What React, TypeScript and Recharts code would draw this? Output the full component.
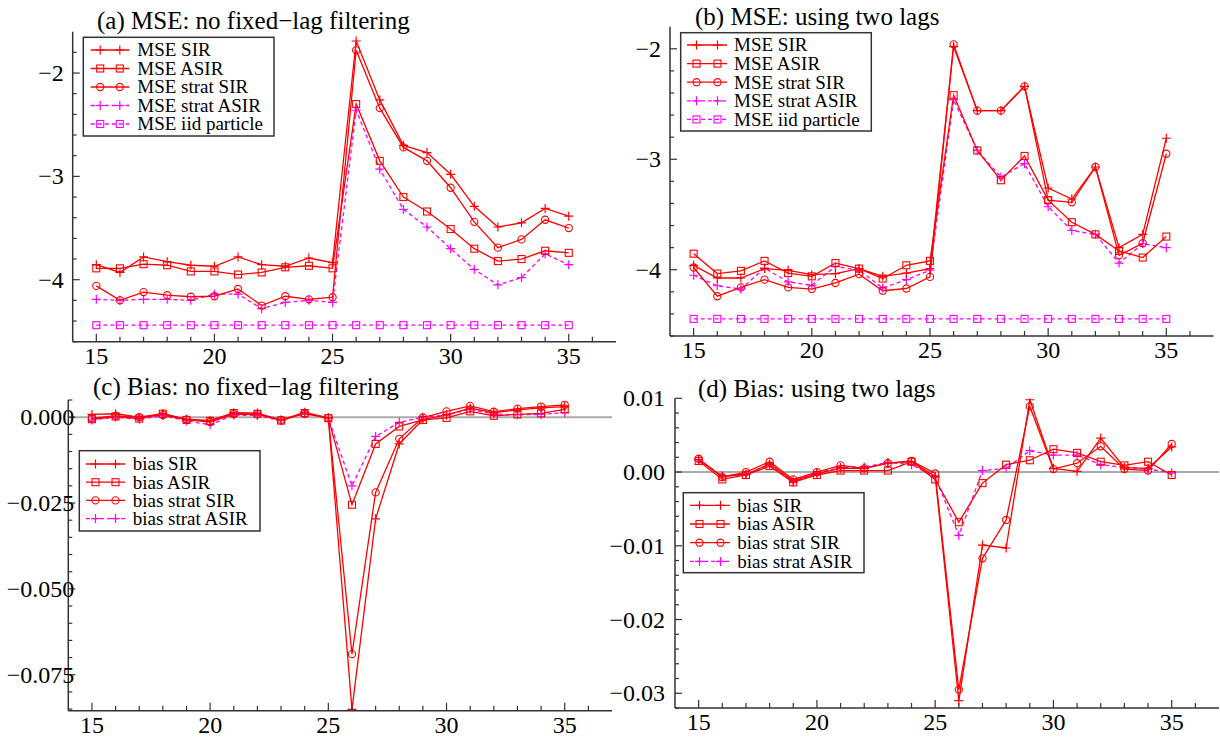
import React from 'react';
import { LineChart, Line, XAxis, YAxis, ReferenceLine } from 'recharts';

const SERIF = '"Liberation Serif", "Times New Roman", serif';
const RED = '#ff0000';
const MAGENTA = '#ff00ff';
const AXIS = '#333333';
const MINUS = '\u2212';

// time steps on the x axis
const steps = [15, 16, 17, 18, 19, 20, 21, 22, 23, 24, 25, 26, 27, 28, 29, 30, 31, 32, 33, 34, 35];

// (a) MSE, no fixed-lag filtering
const aSir = [-3.855, -3.93, -3.78, -3.826, -3.86, -3.87, -3.78, -3.855, -3.87, -3.79, -3.835, -1.69, -2.26, -2.7, -2.77, -2.98, -3.29, -3.49, -3.45, -3.31, -3.385];
const aAsir = [-3.89, -3.89, -3.85, -3.86, -3.92, -3.92, -3.95, -3.93, -3.88, -3.865, -3.89, -2.3, -2.85, -3.2, -3.34, -3.51, -3.7, -3.82, -3.8, -3.72, -3.74];
const aStratSir = [-4.06, -4.2, -4.12, -4.15, -4.165, -4.16, -4.09, -4.25, -4.16, -4.19, -4.17, -1.78, -2.34, -2.72, -2.85, -3.11, -3.44, -3.69, -3.61, -3.42, -3.5];
const aStratAsir = [-4.19, -4.2, -4.19, -4.19, -4.2, -4.14, -4.14, -4.28, -4.22, -4.2, -4.22, -2.36, -2.93, -3.32, -3.49, -3.7, -3.9, -4.05, -3.98, -3.75, -3.855];
const aIid = [-4.44, -4.44, -4.44, -4.44, -4.44, -4.44, -4.44, -4.44, -4.44, -4.44, -4.44, -4.44, -4.44, -4.44, -4.44, -4.44, -4.44, -4.44, -4.44, -4.44, -4.44];

// (b) MSE, two lags
const bSir = [-3.96, -4.075, -4.075, -3.99, -4.005, -4.045, -4.035, -3.99, -4.06, -4.03, -3.99, -1.98, -2.56, -2.56, -2.34, -3.26, -3.36, -3.07, -3.8, -3.68, -2.81];
const bAsir = [-3.855, -4.035, -4.01, -3.92, -4.03, -4.06, -3.94, -3.99, -4.08, -3.96, -3.92, -2.42, -2.92, -3.19, -2.97, -3.37, -3.57, -3.68, -3.83, -3.89, -3.7];
const bStratSir = [-3.98, -4.24, -4.16, -4.09, -4.16, -4.175, -4.12, -4.04, -4.19, -4.17, -4.065, -1.96, -2.56, -2.56, -2.34, -3.37, -3.39, -3.07, -3.87, -3.76, -2.95];
const bStratAsir = [-4.05, -4.145, -4.175, -3.985, -4.11, -4.14, -3.97, -4.005, -4.165, -4.09, -4.005, -2.46, -2.92, -3.16, -3.04, -3.43, -3.645, -3.68, -3.94, -3.765, -3.8];
const bIid = [-4.445, -4.445, -4.445, -4.445, -4.445, -4.445, -4.445, -4.445, -4.445, -4.445, -4.445, -4.445, -4.445, -4.445, -4.445, -4.445, -4.445, -4.445, -4.445, -4.445, -4.445];

// (c) bias, no fixed-lag filtering
const cSir = [0.0008, 0.001, 0, 0.001, -0.0006, -0.001, 0.0013, 0.0012, -0.0008, 0.0014, -0.0002, -0.0851, -0.0296, -0.0078, -0.0007, 0.0007, 0.0026, 0.0013, 0.0021, 0.0027, 0.0031];
const cAsir = [-0.0006, 0.0002, -0.0004, 0.001, -0.0008, -0.0011, 0.0012, 0.001, -0.001, 0.0012, -0.0003, -0.0255, -0.0078, -0.0027, -0.0008, -0.0002, 0.0017, 0.0004, 0.0008, 0.0011, 0.0023];
const cStratSir = [-0.0003, 0.0004, 0, 0.0006, -0.0007, -0.0014, 0.0009, 0.0008, -0.0008, 0.001, -0.0002, -0.069, -0.0219, -0.0063, -0.0001, 0.0017, 0.0033, 0.0016, 0.0025, 0.0031, 0.0036];
const cStratAsir = [-0.0008, 0, -0.0006, 0.0005, -0.0011, -0.0022, 0.0006, 0.0005, -0.001, 0.0011, -0.0003, -0.02, -0.0056, -0.0015, 0, 0.0006, 0.0023, 0.0009, 0.0007, 0.0008, 0.0013];

// (d) bias, two lags
const dSir = [0.0017, -0.0006, -0.0003, 0.0011, -0.0012, -0.0002, 0.0005, 0.0005, 0.0012, 0.0014, -0.0006, -0.031, -0.0099, -0.0103, 0.0098, 0.0005, 0.0001, 0.0046, 0.0006, 0.0005, 0.0034];
const dAsir = [0.0015, -0.001, -0.0004, 0.0008, -0.0014, -0.0004, 0.0002, 0.0002, 0.0002, 0.0014, -0.001, -0.0068, -0.0015, 0.001, 0.0016, 0.0031, 0.0026, 0.0014, 0.0009, 0.0014, -0.0004];
const dStratSir = [0.0018, -0.0007, 0, 0.0014, -0.001, 0, 0.0009, 0.0005, 0.0012, 0.0015, -0.0002, -0.0295, -0.0117, -0.0065, 0.0089, 0.0004, 0.0012, 0.0035, 0.0004, 0.0002, 0.0038];
const dStratAsir = [0.0016, -0.0005, -0.0003, 0.001, -0.0014, -0.0001, 0.0006, 0.0007, 0.0013, 0.001, -0.0007, -0.0086, 0.0002, 0.0005, 0.0029, 0.0023, 0.0023, 0.001, 0.0006, 0.0004, -0.0001];

// tick labels
const xTicks = [15, 16, 17, 18, 19, 20, 21, 22, 23, 24, 25, 26, 27, 28, 29, 30, 31, 32, 33, 34, 35, 36];
const xLabels = [15, 20, 25, 30, 35];
const mseMajor = [-2, -3, -4];
const mseLabels = [MINUS + '2', MINUS + '3', MINUS + '4'];
const cMajor = [0, -0.025, -0.05, -0.075];
const cLabels = ['0.000', MINUS + '0.025', MINUS + '0.050', MINUS + '0.075'];
const dMajor = [0.01, 0, -0.01, -0.02, -0.03];
const dLabels = ['0.01', '0.00', MINUS + '0.01', MINUS + '0.02', MINUS + '0.03'];

type MarkerKind = 'plus' | 'square' | 'circle';
interface Series {
  key: string;
  name: string;
  color: string;
  dashed: boolean;
  marker: MarkerKind;
}

const mseSeries: Series[] = [
  { key: 'iid', name: 'MSE iid particle', color: MAGENTA, dashed: true, marker: 'square' },
  { key: 'stratAsir', name: 'MSE strat ASIR', color: MAGENTA, dashed: true, marker: 'plus' },
  { key: 'stratSir', name: 'MSE strat SIR', color: RED, dashed: false, marker: 'circle' },
  { key: 'asir', name: 'MSE ASIR', color: RED, dashed: false, marker: 'square' },
  { key: 'sir', name: 'MSE SIR', color: RED, dashed: false, marker: 'plus' },
];
const biasSeries: Series[] = [
  { key: 'stratAsir', name: 'bias strat ASIR', color: MAGENTA, dashed: true, marker: 'plus' },
  { key: 'stratSir', name: 'bias strat SIR', color: RED, dashed: false, marker: 'circle' },
  { key: 'asir', name: 'bias ASIR', color: RED, dashed: false, marker: 'square' },
  { key: 'sir', name: 'bias SIR', color: RED, dashed: false, marker: 'plus' },
];

const range = (from: number, to: number, step: number) => {
  const out: number[] = [];
  const n = Math.round((to - from) / step);
  for (let i = 0; i <= n; i++) out.push(Math.round((from + i * step) * 1e6) / 1e6);
  return out;
};

const rows = (cols: Record<string, number[]>) =>
  steps.map((x, i) => {
    const r: Record<string, number> = { x };
    Object.keys(cols).forEach((k) => {
      r[k] = cols[k][i];
    });
    return r;
  });

function marker(kind: MarkerKind, cx: number, cy: number, color: string, key?: string) {
  if (kind === 'plus') {
    return (
      <path key={key} d={`M${cx - 4.5},${cy}H${cx + 4.5}M${cx},${cy - 4.5}V${cy + 4.5}`} stroke={color} strokeWidth={1.2} fill="none" />
    );
  }
  if (kind === 'square') {
    return <rect key={key} x={cx - 3.5} y={cy - 3.5} width={7} height={7} stroke={color} strokeWidth={1.1} fill="none" />;
  }
  return <circle key={key} cx={cx} cy={cy} r={3.6} stroke={color} strokeWidth={1.1} fill="none" />;
}

interface PanelCfg {
  left: number;
  top: number;
  width: number;
  height: number;
  margin: { top: number; right: number; bottom: number; left: number };
  yDomain: [number, number];
  yTicks: number[];
  yMajor: number[];
  yLabels: string[];
  yLabelDx: number;
  zero: boolean;
  data: Record<string, number>[];
  series: Series[];
}

// margins already leave 1px for the axis boxes below
const panels: PanelCfg[] = [
  {
    left: 0, top: 0, width: 620, height: 372,
    margin: { top: 31.7, right: 4, bottom: 29.3, left: 71.7 },
    yDomain: [-4.6, -1.6], yTicks: range(-4.6, -1.8, 0.2), yMajor: mseMajor, yLabels: mseLabels, yLabelDx: -9,
    zero: false,
    data: rows({ sir: aSir, asir: aAsir, stratSir: aStratSir, stratAsir: aStratAsir, iid: aIid }),
    series: mseSeries,
  },
  {
    left: 600, top: 0, width: 620, height: 372,
    margin: { top: 26.7, right: 6.4, bottom: 35, left: 69 },
    yDomain: [-4.6, -1.8], yTicks: range(-4.6, -2, 0.2), yMajor: mseMajor, yLabels: mseLabels, yLabelDx: -9,
    zero: false,
    data: rows({ sir: bSir, asir: bAsir, stratSir: bStratSir, stratAsir: bStratAsir, iid: bIid }),
    series: mseSeries,
  },
  {
    left: 0, top: 372, width: 620, height: 375,
    margin: { top: 28, right: 8, bottom: 35.2, left: 67.3 },
    yDomain: [-0.0855, 0.005], yTicks: range(-0.085, 0.005, 0.005), yMajor: cMajor, yLabels: cLabels, yLabelDx: 6,
    zero: true,
    data: rows({ sir: cSir, asir: cAsir, stratSir: cStratSir, stratAsir: cStratAsir }),
    series: biasSeries,
  },
  {
    left: 600, top: 372, width: 620, height: 375,
    margin: { top: 26.3, right: 1, bottom: 38, left: 74 },
    yDomain: [-0.032, 0.01], yTicks: range(-0.032, 0.01, 0.002), yMajor: dMajor, yLabels: dLabels, yLabelDx: -10,
    zero: true,
    data: rows({ sir: dSir, asir: dAsir, stratSir: dStratSir, stratAsir: dStratAsir }),
    series: biasSeries,
  },
];

const XTick = (props: any) => {
  const { x, y, payload } = props;
  const v = payload.value;
  const major = xLabels.includes(v);
  return (
    <g>
      <line x1={x} x2={x} y1={y} y2={y - (major ? 8 : 5)} stroke={AXIS} strokeWidth={1.2} />
      {major && (
        <text x={x} y={y + 22} textAnchor="middle" fontSize={24} fontFamily={SERIF} fill="#000">
          {v}
        </text>
      )}
    </g>
  );
};

const makeYTick = (cfg: PanelCfg) => (props: any) => {
  const { x, y, payload } = props;
  const v = payload.value;
  const idx = cfg.yMajor.findIndex((m) => Math.abs(m - v) < 1e-7);
  const major = idx >= 0;
  return (
    <g>
      <line x1={x} x2={x + (major ? 7 : 4)} y1={y} y2={y} stroke={AXIS} strokeWidth={1.2} />
      {major && (
        <text x={x + cfg.yLabelDx} y={y + 8} textAnchor="end" fontSize={24} fontFamily={SERIF} fill="#000">
          {cfg.yLabels[idx]}
        </text>
      )}
    </g>
  );
};

function Panel({ cfg }: { cfg: PanelCfg }) {
  return (
    <div style={{ position: 'absolute', left: cfg.left, top: cfg.top }}>
      <LineChart width={cfg.width} height={cfg.height} data={cfg.data} margin={cfg.margin}>
        <XAxis
          type="number"
          dataKey="x"
          domain={[14, 37]}
          ticks={xTicks}
          interval={0}
          height={1}
          tickSize={0}
          tickMargin={0}
          tickLine={false}
          axisLine={{ stroke: AXIS, strokeWidth: 1.5 }}
          tick={XTick}
          allowDataOverflow
        />
        <YAxis
          type="number"
          domain={cfg.yDomain}
          ticks={cfg.yTicks}
          interval={0}
          width={1}
          tickSize={0}
          tickMargin={0}
          tickLine={false}
          axisLine={{ stroke: AXIS, strokeWidth: 1.5 }}
          tick={makeYTick(cfg)}
          allowDataOverflow
        />
        {cfg.zero && <ReferenceLine y={0} stroke="#aaaaaa" strokeWidth={2} />}
        {cfg.series.map((s) => (
          <Line
            key={s.key}
            type="linear"
            dataKey={s.key}
            stroke={s.color}
            strokeWidth={1.3}
            strokeDasharray={s.dashed ? '4 3' : undefined}
            dot={(p: any) => marker(s.marker, p.cx, p.cy, s.color, `${s.key}-${p.index}`)}
            activeDot={false}
            isAnimationActive={false}
          />
        ))}
      </LineChart>
    </div>
  );
}

interface LegendCfg {
  x: number;
  y: number;
  w: number;
  h: number;
  row0: number;
  rowStep: number;
  lineX1: number;
  lineX2: number;
  textX: number;
  series: Series[];
}

const legends: LegendCfg[] = [
  { x: 83.3, y: 37.3, w: 190.7, h: 98.7, row0: 50, rowStep: 18.5, lineX1: 90.7, lineX2: 129.3, textX: 137.3, series: [...mseSeries].reverse() },
  { x: 680.7, y: 32.7, w: 190.6, h: 98.3, row0: 45, rowStep: 18.6, lineX1: 687, lineX2: 727, textX: 734, series: [...mseSeries].reverse() },
  { x: 79.3, y: 450.7, w: 180.7, h: 80.3, row0: 464, rowStep: 18.2, lineX1: 86, lineX2: 125, textX: 132.7, series: [...biasSeries].reverse() },
  { x: 683.3, y: 492.7, w: 180.7, h: 80, row0: 505.3, rowStep: 18.7, lineX1: 690, lineX2: 730, textX: 737.3, series: [...biasSeries].reverse() },
];

const titles = [
  { x: 97, y: 29, text: '(a) MSE: no fixed' + MINUS + 'lag filtering' },
  { x: 695, y: 25, text: '(b) MSE: using two lags' },
  { x: 93, y: 395, text: '(c) Bias: no fixed' + MINUS + 'lag filtering' },
  { x: 698, y: 397, text: '(d) Bias: using two lags' },
];

function Overlay() {
  return (
    <svg width={1220} height={747} style={{ position: 'absolute', left: 0, top: 0, pointerEvents: 'none' }}>
      {titles.map((t) => (
        <text key={t.text} x={t.x} y={t.y} fontSize={25} fontFamily={SERIF} fill="#000">
          {t.text}
        </text>
      ))}
      {legends.map((lg, li) => (
        <g key={li}>
          <rect x={lg.x} y={lg.y} width={lg.w} height={lg.h} fill="#fff" stroke={AXIS} strokeWidth={1.5} />
          {lg.series.map((s, i) => {
            const cy = lg.row0 + i * lg.rowStep;
            return (
              <g key={s.key}>
                <line x1={lg.lineX1} x2={lg.lineX2} y1={cy} y2={cy} stroke={s.color} strokeWidth={1.3} strokeDasharray={s.dashed ? '4 3' : undefined} />
                {marker(s.marker, lg.lineX1 + 9.5, cy, s.color)}
                {marker(s.marker, lg.lineX2 - 9.5, cy, s.color)}
                <text x={lg.textX} y={cy + 6.3} fontSize={19} fontFamily={SERIF} fill="#000">
                  {s.name}
                </text>
              </g>
            );
          })}
        </g>
      ))}
    </svg>
  );
}

export default function App() {
  return (
    <div style={{ position: 'absolute', left: 0, top: 0, width: 1220, height: 747, background: '#fff' }}>
      {panels.map((cfg, i) => (
        <Panel key={i} cfg={cfg} />
      ))}
      <Overlay />
    </div>
  );
}
